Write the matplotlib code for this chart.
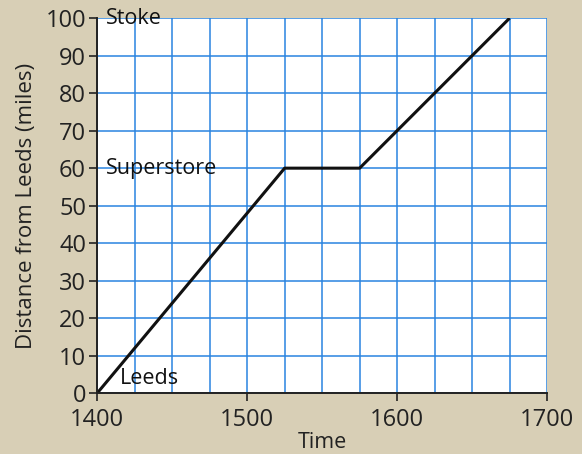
import matplotlib
matplotlib.use("Agg")
import matplotlib.pyplot as plt
import numpy as np

# journey: time (24h clock) and distance from Leeds in miles
times = ["1400", "1515", "1545", "1645"]
distances = [0, 60, 60, 100]
xticklabels = ["1400", "1500", "1600", "1700"]
yticks = [0, 10, 20, 30, 40, 50, 60, 70, 80, 90, 100]
places = ["Leeds", "Superstore", "Stoke"]
place_miles = [0, 60, 100]


def to_hours(t):
    return int(t[:2]) + int(t[2:]) / 60.0


hours = [to_hours(t) for t in times]

plt.rcParams['font.family'] = ['Open Sans', 'DejaVu Sans']
page = "#d8cfb6"
gridblue = "#2a84e0"

fig = plt.figure(figsize=(5.82, 4.54), dpi=100)
fig.patch.set_facecolor(page)
ax = fig.add_axes([0.167, 0.134, 0.773, 0.826])
ax.set_facecolor("white")

ax.plot(hours, distances, color="#111111", lw=2.2, zorder=3, solid_capstyle="butt")

ax.set_xlim(14, 17)
ax.set_ylim(0, 100)
ax.set_xticks([14, 15, 16, 17])
ax.set_xticklabels(xticklabels)
ax.set_xticks(np.arange(14, 17.01, 0.25), minor=True)
ax.set_yticks(yticks)
ax.grid(which="both", color=gridblue, lw=1.1)
ax.tick_params(axis="x", which="minor", length=0)
ax.tick_params(which="major", direction="out", length=6, width=1.2,
               colors="#222222", labelsize=17)
ax.tick_params(axis="x", pad=5)
ax.tick_params(axis="y", pad=2)
ax.set_axisbelow(True)

for s in ["top", "right"]:
    ax.spines[s].set_visible(False)
for s in ["left", "bottom"]:
    ax.spines[s].set_color("#222222")
    ax.spines[s].set_linewidth(1.4)
    ax.spines[s].set_zorder(4)

ax.set_xlabel("Time", fontsize=15.5, color="#222222", labelpad=0)
ax.set_ylabel("Distance from Leeds (miles)", fontsize=16, color="#222222", labelpad=6)

# place names written on the chart
ax.text(14.06, 100, places[2], fontsize=15.5, color="#111111", va="center", ha="left")
ax.text(14.06, 60, places[1], fontsize=15.5, color="#111111", va="center", ha="left")
ax.text(14.15, 4, places[0], fontsize=15.5, color="#111111", va="center", ha="left")

fig.savefig("out.png", dpi=100, facecolor=page)
